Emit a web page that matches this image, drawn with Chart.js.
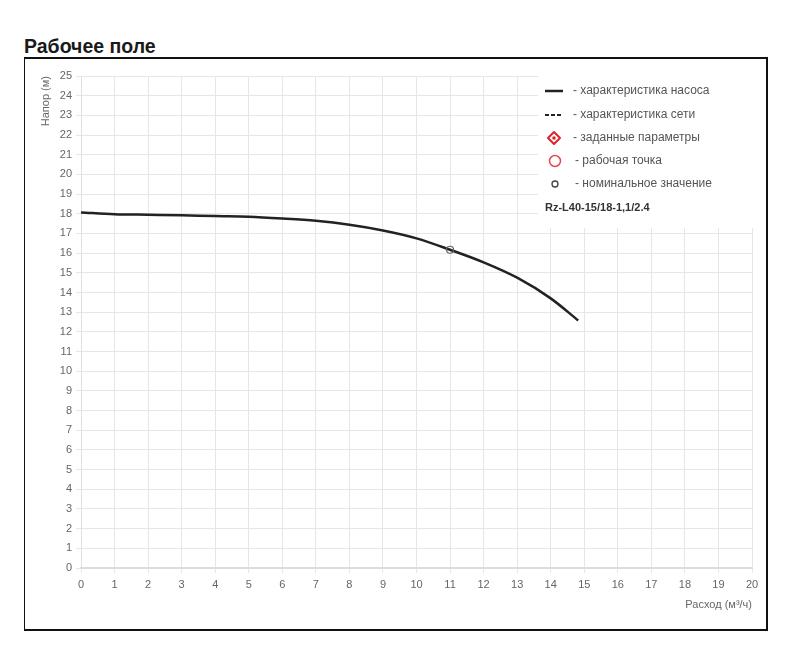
<!DOCTYPE html>
<html>
<head>
<meta charset="utf-8">
<script src="https://cdn.jsdelivr.net/npm/chart.js@4.4.1/dist/chart.umd.min.js"></script>
<style>
  html, body { margin: 0; padding: 0; background: #fff; }
  body { width: 800px; height: 665px; position: relative; overflow: hidden; font-family: "Liberation Sans", Arial, sans-serif; }
  #title { position: absolute; left: 24px; top: 35px; font-size: 19.5px; font-weight: bold; color: #1a1a1a; }
  #frame { position: absolute; left: 24px; top: 57px; width: 741px; height: 570px; border: 2px solid #111; border-left-width: 1.5px; }
  #wrap { position: absolute; left: 27px; top: 60px; width: 738px; height: 567px; }
</style>
</head>
<body>
<div id="title">Рабочее поле</div>
<div id="frame"></div>
<div id="wrap"><canvas id="c"></canvas></div>
<script>
// ---- data ----
const flowValues = [0, 1, 2, 3, 4, 5, 6, 7, 8, 9, 10, 11, 12, 13, 14, 14.82];
const headValues = [18.07, 17.98, 17.95, 17.92, 17.88, 17.85, 17.76, 17.64, 17.44, 17.15, 16.75, 16.17, 15.53, 14.75, 13.7, 12.58];
const nominalFlow = [11];
const nominalHead = [16.17];
const xTickValues = [0,1,2,3,4,5,6,7,8,9,10,11,12,13,14,15,16,17,18,19,20];
const yTickValues = [0,1,2,3,4,5,6,7,8,9,10,11,12,13,14,15,16,17,18,19,20,21,22,23,24,25];
const legendLabels = ['- характеристика насоса', '- характеристика сети', '- заданные параметры', '- рабочая точка', '- номинальное значение'];
const modelName = 'Rz-L40-15/18-1,1/2.4';
const xTitle = 'Расход (м³/ч)';
const yTitle = 'Напор (м)';

const pumpPoints = flowValues.map((x, i) => ({x: x, y: headValues[i]}));
const nominalPoints = nominalFlow.map((x, i) => ({x: x, y: nominalHead[i]}));

const FONT = '"Liberation Sans", Arial, sans-serif';

const legendPlugin = {
  id: 'boxLegend',
  beforeDatasetsDraw(chart) {
    const ctx = chart.ctx;
    const a = chart.chartArea;
    const bx = a.left + 457, by = a.top - 8;
    ctx.save();
    ctx.fillStyle = '#fff';
    ctx.fillRect(bx, by, a.right + 10 - bx, 160);
    const mx = a.left + 473; // marker centre
    const tx = a.left + 492; // text start
    const rows = [15, 39, 62, 85, 108].map(d => a.top + d);
    ctx.textBaseline = 'middle';
    ctx.font = '12px ' + FONT;
    // row 1 solid line
    ctx.strokeStyle = '#222'; ctx.lineWidth = 2.5; ctx.setLineDash([]);
    ctx.beginPath(); ctx.moveTo(mx - 9, rows[0]); ctx.lineTo(mx + 9, rows[0]); ctx.stroke();
    // row 2 dashed
    ctx.lineWidth = 2; ctx.setLineDash([4, 2]);
    ctx.beginPath(); ctx.moveTo(mx - 9, rows[1]); ctx.lineTo(mx + 9, rows[1]); ctx.stroke();
    ctx.setLineDash([]);
    // row 3 target
    ctx.strokeStyle = '#e2232f'; ctx.fillStyle = '#e2232f'; ctx.lineWidth = 2;
    ctx.lineJoin = 'round';
    ctx.beginPath(); ctx.moveTo(mx, rows[2] - 6); ctx.lineTo(mx + 6, rows[2]); ctx.lineTo(mx, rows[2] + 6); ctx.lineTo(mx - 6, rows[2]); ctx.closePath(); ctx.stroke();
    ctx.beginPath(); ctx.arc(mx, rows[2], 1.8, 0, Math.PI * 2); ctx.fill();
    // row 4 red circle
    ctx.lineWidth = 1.5; ctx.strokeStyle = '#e44a55';
    ctx.beginPath(); ctx.arc(mx + 1, rows[3], 5.5, 0, Math.PI * 2); ctx.stroke();
    // row 5 small grey circle
    ctx.lineWidth = 1.3; ctx.strokeStyle = '#444';
    ctx.beginPath(); ctx.arc(mx + 1, rows[4], 3, 0, Math.PI * 2); ctx.stroke();
    // texts
    ctx.fillStyle = '#555';
    legendLabels.forEach((t, i) => ctx.fillText(t, tx + (i >= 3 ? 2 : 0), rows[i]));
    ctx.font = 'bold 11px ' + FONT;
    ctx.fillStyle = '#333';
    ctx.fillText(modelName, a.left + 464, a.top + 132);
    ctx.restore();
  }
};

new Chart(document.getElementById('c'), {
  type: 'scatter',
  data: {
    datasets: [
      {
        label: legendLabels[0],
        data: pumpPoints,
        showLine: true,
        borderColor: '#222',
        borderWidth: 2.5,
        pointRadius: 0,
        cubicInterpolationMode: 'monotone',
        fill: false,
        order: 2
      },
      {
        label: legendLabels[4],
        data: nominalPoints,
        showLine: false,
        pointRadius: 3.5,
        pointBorderWidth: 1.2,
        pointBorderColor: '#666',
        pointBackgroundColor: 'rgba(255,255,255,0)',
        order: 1
      }
    ]
  },
  options: {
    responsive: true,
    maintainAspectRatio: false,
    animation: false,
    layout: { padding: { top: 16, right: 13, left: 0, bottom: 0 } },
    plugins: { legend: { display: false }, tooltip: { enabled: false } },
    scales: {
      x: {
        type: 'linear',
        min: 0, max: 20,
        afterBuildTicks(scale) { scale.ticks = xTickValues.map(v => ({value: v})); },
        afterFit(scale) { scale.height = 59; },
        ticks: { color: '#666', font: { family: FONT, size: 11 }, padding: 5, maxRotation: 0, autoSkip: false },
        grid: { color: '#e6e6e6', tickLength: 5, lineWidth: 1 },
        border: { color: '#dcdcdc', width: 2 },
        title: { display: true, text: xTitle, align: 'end', color: '#666', font: { family: FONT, size: 11 }, padding: { top: 0, bottom: 15 } }
      },
      y: {
        type: 'linear',
        min: 0, max: 25,
        afterBuildTicks(scale) { scale.ticks = yTickValues.map(v => ({value: v})); },
        afterFit(scale) { scale.width = 54; },
        ticks: { color: '#666', font: { family: FONT, size: 11 }, padding: 4, autoSkip: false },
        grid: { color: '#e6e6e6', tickLength: 5, lineWidth: 1 },
        border: { color: '#e0e0e0', width: 1 },
        title: { display: true, text: yTitle, align: 'end', color: '#666', font: { family: FONT, size: 11 }, padding: { top: 12, bottom: 0 } }
      }
    }
  },
  plugins: [legendPlugin]
});
</script>
</body>
</html>
